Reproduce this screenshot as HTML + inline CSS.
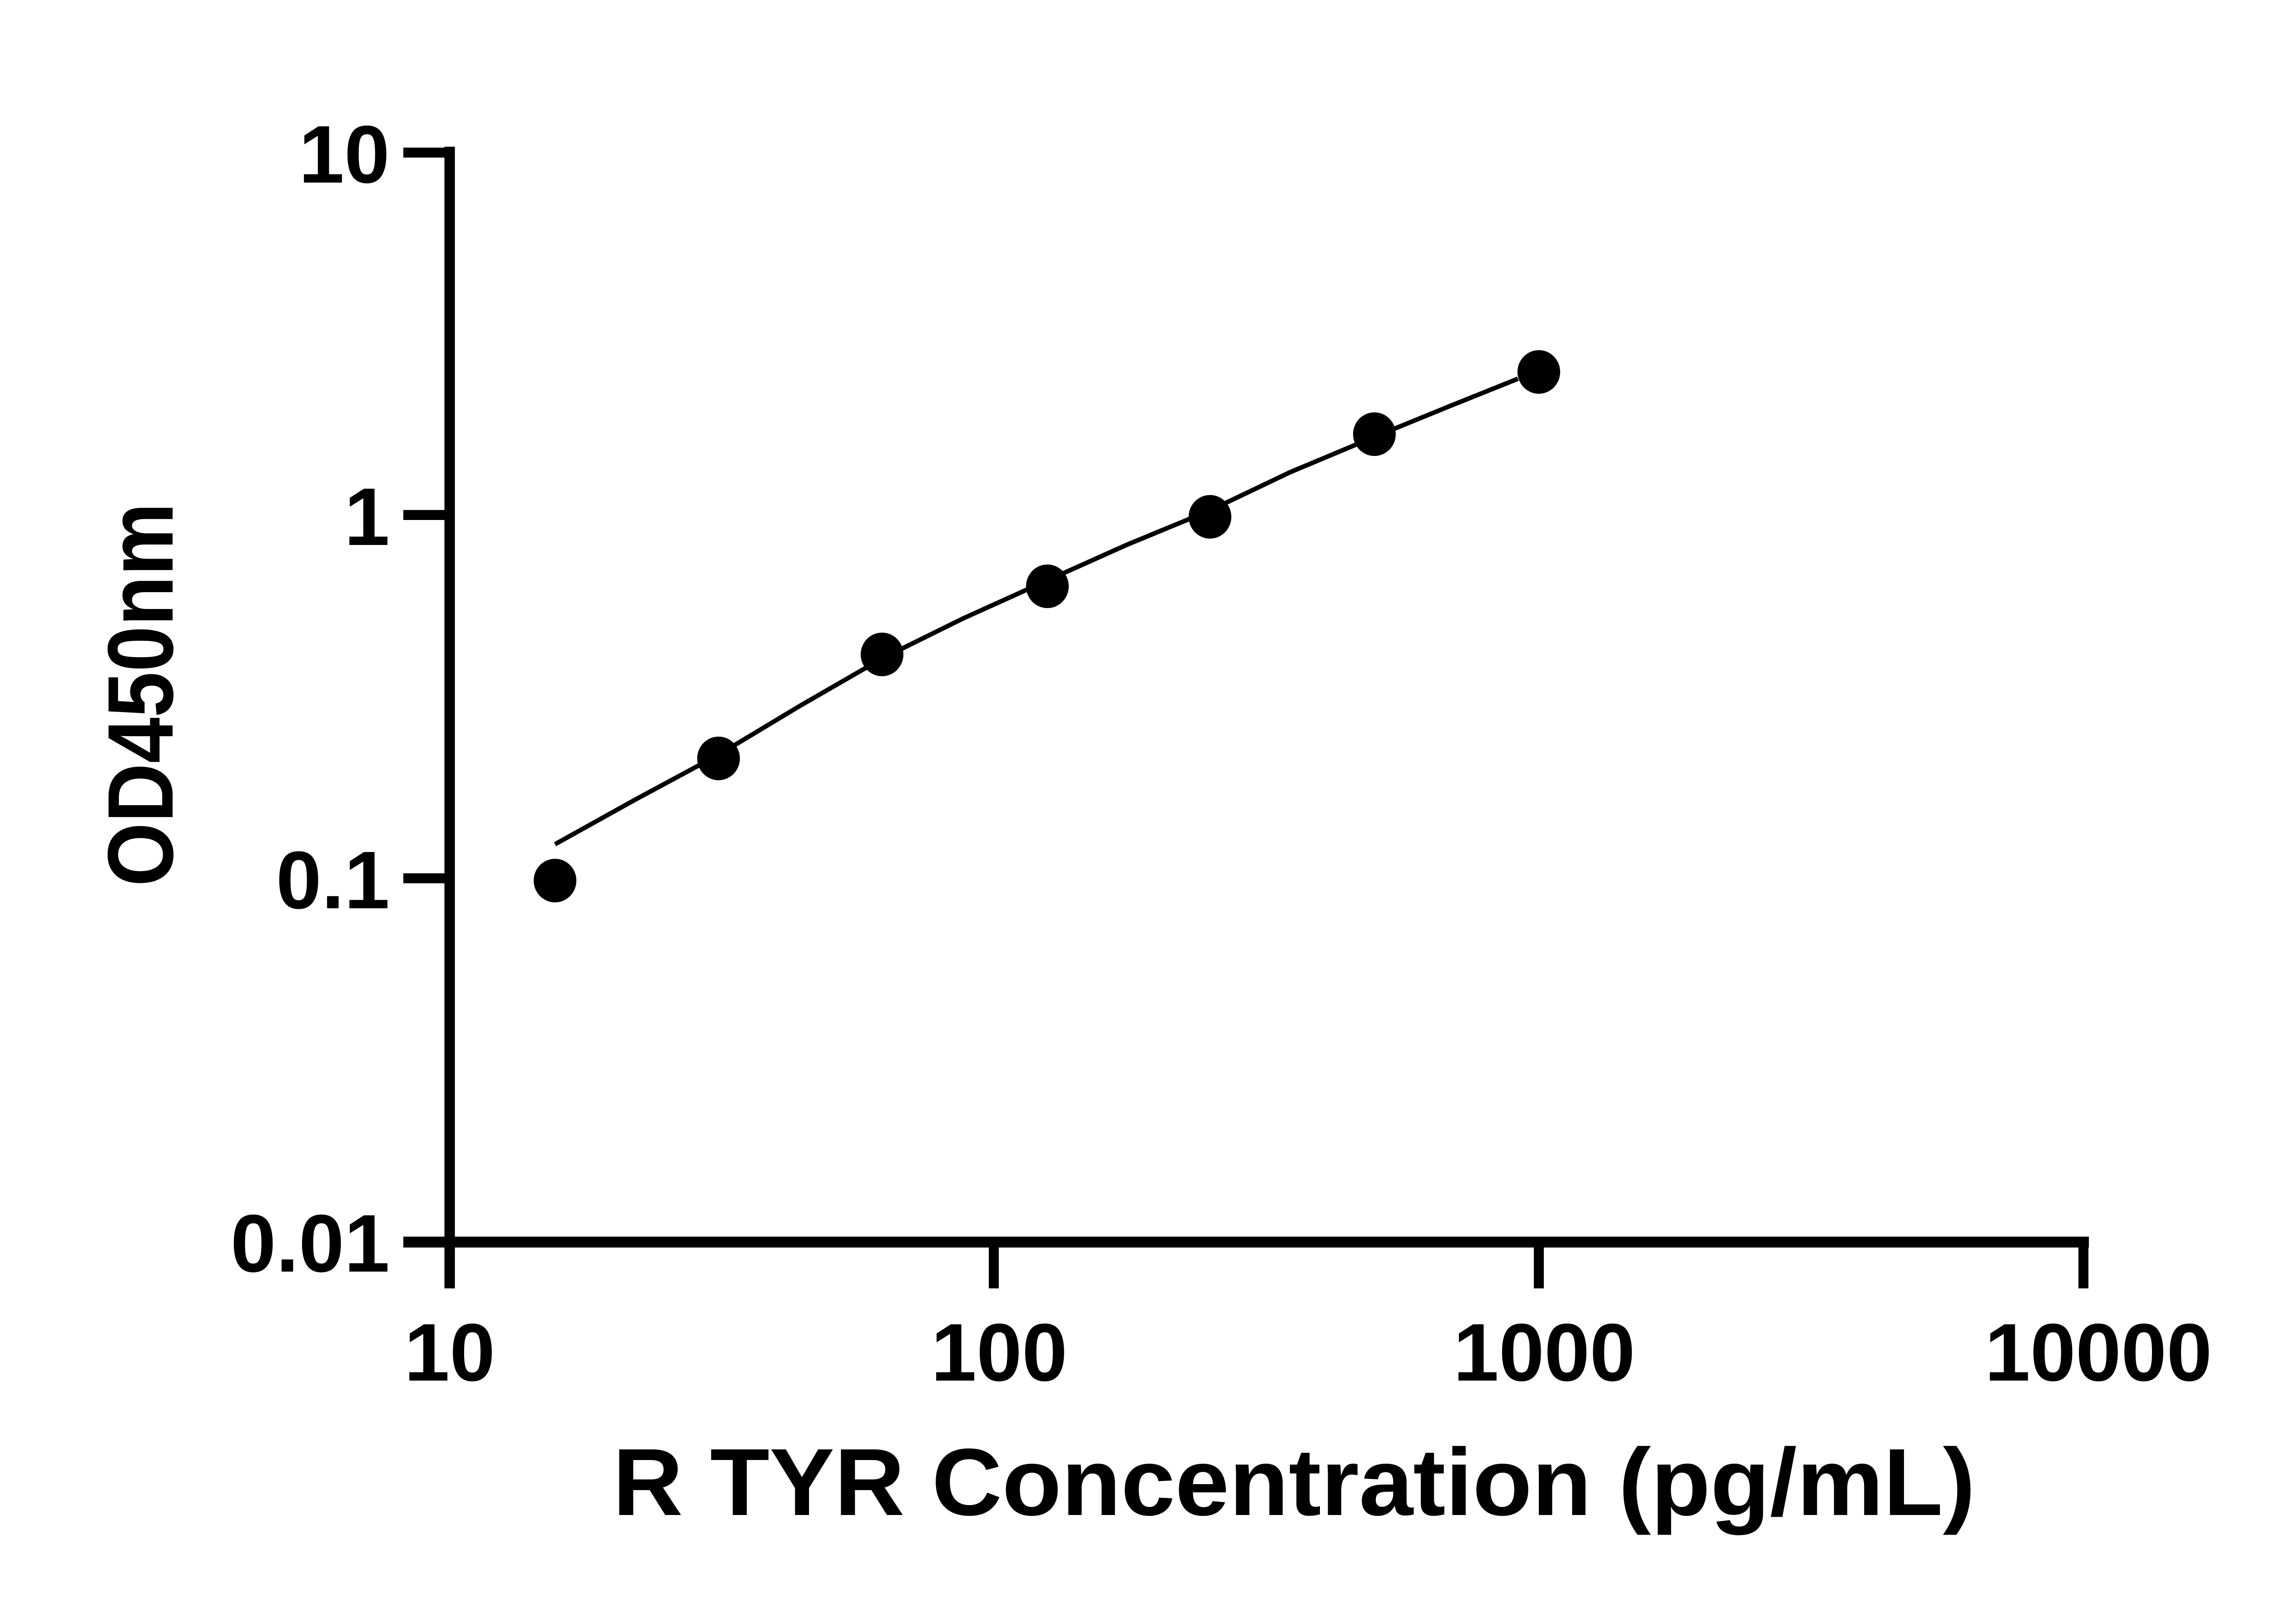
<!DOCTYPE html>
<html><head><meta charset="utf-8"><style>html,body{margin:0;padding:0;background:#fff}svg{display:block}</style></head>
<body>
<svg width="5142" height="3576" viewBox="0 0 5142 3576" xmlns="http://www.w3.org/2000/svg">
<rect width="5142" height="3576" fill="#fff"/>
<g stroke="#000" fill="none">
<line x1="990" y1="323" x2="990" y2="2837" stroke-width="23"/>
<line x1="888" y1="2735" x2="4599" y2="2735" stroke-width="24"/>
<g stroke-width="22">
<line x1="888" y1="336" x2="990" y2="336"/>
<line x1="888" y1="1134" x2="990" y2="1134"/>
<line x1="888" y1="1934" x2="990" y2="1934"/>
<line x1="2188" y1="2735" x2="2188" y2="2837"/>
<line x1="3388" y1="2735" x2="3388" y2="2837"/>
<line x1="4587" y1="2735" x2="4587" y2="2837"/>
</g>
<polyline stroke-width="10" points="1222,1859 1400,1760 1582,1662 1760,1555 1942,1450 2120,1362 2306,1278 2480,1200 2664,1124 2840,1040 3026,962 3190,895 3342,834"/>
</g>
<g fill="#000">
<ellipse cx="1222" cy="1939" rx="47" ry="48"/>
<ellipse cx="1582" cy="1670" rx="47" ry="48"/>
<ellipse cx="1942" cy="1441" rx="47" ry="48"/>
<ellipse cx="2306" cy="1291" rx="47" ry="48"/>
<ellipse cx="2664" cy="1138" rx="47" ry="48"/>
<ellipse cx="3026" cy="956" rx="47" ry="48"/>
<ellipse cx="3388" cy="819" rx="47" ry="48"/>
</g>
<g font-family="Liberation Sans, sans-serif" font-weight="bold" fill="#000" font-size="180">
<text x="858" y="402" text-anchor="end">10</text>
<text x="858" y="1200" text-anchor="end">1</text>
<text x="858" y="2000" text-anchor="end">0.1</text>
<text x="858" y="2800" text-anchor="end">0.01</text>
<text x="990" y="3040" text-anchor="middle">10</text>
<text x="2200" y="3040" text-anchor="middle">100</text>
<text x="3400" y="3040" text-anchor="middle">1000</text>
<text x="4620" y="3040" text-anchor="middle">10000</text>
<text x="1349" y="3336" font-size="210" textLength="3000" lengthAdjust="spacingAndGlyphs">R TYR Concentration (pg/mL)</text>
<text transform="translate(380,1952) rotate(-90)" font-size="205" textLength="845" lengthAdjust="spacingAndGlyphs">OD450nm</text>
</g>
</svg>
</body></html>
